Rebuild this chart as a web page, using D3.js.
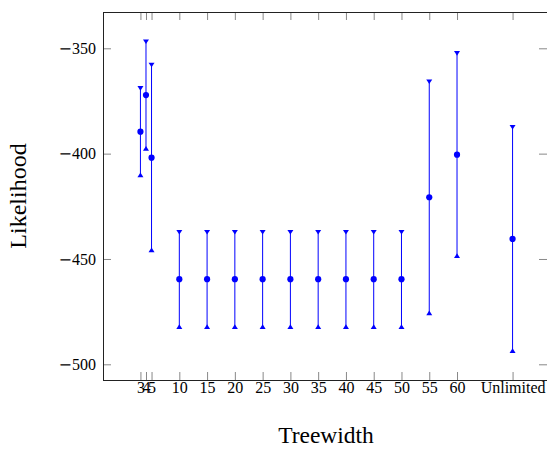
<!DOCTYPE html>
<html>
<head>
<meta charset="utf-8">
<script src="https://cdn.jsdelivr.net/npm/d3@7"></script>
<style>
  html, body { margin: 0; padding: 0; background: #fff; }
  svg { display: block; }
  text, tspan { font-family: "Liberation Serif", "Times New Roman", serif; fill: #000; }
</style>
</head>
<body>
<svg id="chart" width="547" height="449"></svg>
<script>
// ---- data ----
const xValues = [3, 4, 5, 10, 15, 20, 25, 30, 35, 40, 45, 50, 55, 60, 70];
const xTickLabels = ["3", "4", "5", "10", "15", "20", "25", "30", "35", "40", "45", "50", "55", "60", "Unlimited"];
const meanValues = [-389.6, -372.2, -401.9, -459.6, -459.6, -459.6, -459.6, -459.6, -459.6, -459.6, -459.6, -459.6, -420.7, -400.5, -440.5];
const upperValues = [-369.0, -346.9, -357.9, -437.3, -437.3, -437.3, -437.3, -437.3, -437.3, -437.3, -437.3, -437.3, -365.9, -352.4, -387.5];
const lowerValues = [-410.1, -397.5, -445.7, -482.1, -482.1, -482.1, -482.1, -482.1, -482.1, -482.1, -482.1, -482.1, -475.6, -448.4, -493.5];
const yTicks = [-500, -450, -400, -350];
const xLabel = "Treewidth";
const yLabel = "Likelihood";

// ---- layout ----
const L = 103, R = 547, T = 12, B = 380;
const svg = d3.select("#chart");
const x = d3.scaleLinear().domain([-3.74, 76.2]).range([L, R]);
const y = d3.scaleLinear().domain([-507.45, -332.77]).range([B, T]);

const blue = "#0000ff";
const tickLen = 8;
const serif = '"Liberation Serif", "Times New Roman", serif';

// ticks (inward, all four sides)
const g = svg.append("g");
const xAxisB = d3.axisBottom(x).tickValues(xValues).tickSize(-tickLen).tickFormat((d, i) => xTickLabels[i]).tickPadding(tickLen + 5);
const gxB = g.append("g").attr("transform", `translate(0,${B})`).call(xAxisB)
  .attr("font-family", serif);
gxB.select(".domain").remove();
gxB.selectAll(".tick line").attr("stroke", "#888");
gxB.selectAll(".tick text").attr("font-size", 16).attr("font-family", serif).attr("dy", null).attr("y", 13.3);

const xAxisT = d3.axisTop(x).tickValues(xValues).tickSize(-tickLen).tickFormat("");
const gxT = g.append("g").attr("transform", `translate(0,${T})`).call(xAxisT);
gxT.select(".domain").remove();
gxT.selectAll(".tick line").attr("stroke", "#888");

const yAxisL = d3.axisLeft(y).tickValues(yTicks).tickSize(-tickLen).tickPadding(7);
const gyL = g.append("g").attr("transform", `translate(${L},0)`).call(yAxisL)
  .attr("font-family", serif);
gyL.select(".domain").remove();
gyL.selectAll(".tick line").attr("stroke", "#888");
gyL.selectAll(".tick text").each(function (d) {
  const t = d3.select(this);
  t.text(null).attr("font-size", 16).attr("font-family", serif).attr("x", -7).attr("dy", "0.32em");
  t.append("tspan").attr("font-size", 16).style("font-family", '"DejaVu Serif", serif').text("\u2212");
  t.append("tspan").text(String(Math.abs(d)));
});

const yAxisR = d3.axisRight(y).tickValues(yTicks).tickSize(-tickLen).tickFormat("");
const gyR = g.append("g").attr("transform", `translate(${R},0)`).call(yAxisR);
gyR.select(".domain").remove();
gyR.selectAll(".tick line").attr("stroke", "#888");

// frame
svg.append("rect")
  .attr("x", L + 0.5).attr("y", T + 0.5)
  .attr("width", R - L).attr("height", B - T)
  .attr("fill", "none").attr("stroke", "#222").attr("stroke-width", 1);

// error bars
const data = xValues.map((v, i) => ({ x: v, m: meanValues[i], hi: upperValues[i], lo: lowerValues[i] }));
const eg = svg.append("g");
eg.selectAll("line.err").data(data).join("line")
  .attr("class", "err")
  .attr("x1", d => x(d.x)).attr("x2", d => x(d.x))
  .attr("y1", d => y(d.hi)).attr("y2", d => y(d.lo))
  .attr("stroke", blue).attr("stroke-width", 1);

const tw = 3, th = 4.6;
eg.selectAll("path.up").data(data).join("path")
  .attr("class", "up")
  .attr("d", d => {
    const cx = x(d.x), cy = y(d.hi);
    return `M${cx - tw},${cy - th / 2}L${cx + tw},${cy - th / 2}L${cx},${cy + th / 2}Z`;
  })
  .attr("fill", blue);
eg.selectAll("path.down").data(data).join("path")
  .attr("class", "down")
  .attr("d", d => {
    const cx = x(d.x), cy = y(d.lo);
    return `M${cx - tw},${cy + th / 2}L${cx + tw},${cy + th / 2}L${cx},${cy - th / 2}Z`;
  })
  .attr("fill", blue);
eg.selectAll("circle").data(data).join("circle")
  .attr("cx", d => x(d.x)).attr("cy", d => y(d.m)).attr("r", 3.1)
  .attr("fill", blue);

// axis labels
svg.append("text")
  .attr("x", (L + R) / 2 + 1).attr("y", 442.5)
  .attr("text-anchor", "middle").attr("font-size", 23.5)
  .text(xLabel);
svg.append("text")
  .attr("transform", `translate(25.5,${(T + B) / 2}) rotate(-90)`)
  .attr("text-anchor", "middle").attr("font-size", 24)
  .text(yLabel);
</script>
</body>
</html>
